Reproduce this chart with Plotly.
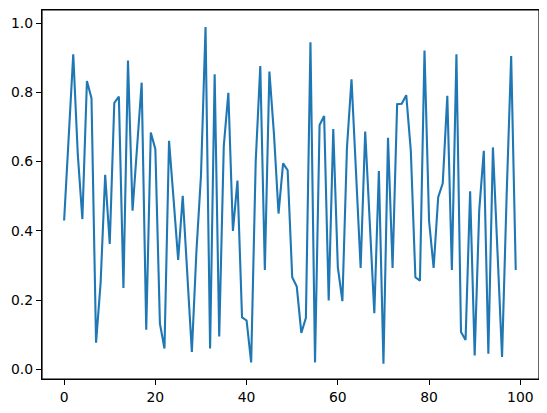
import plotly.graph_objects as go

x_values = list(range(100))
y_values = [
    0.43, 0.67, 0.91, 0.62, 0.434, 0.833, 0.783, 0.077, 0.25, 0.562,
    0.362, 0.77, 0.788, 0.235, 0.892, 0.458, 0.64, 0.828, 0.114, 0.684,
    0.636, 0.132, 0.06, 0.66, 0.49, 0.316, 0.501, 0.28, 0.05, 0.34,
    0.56, 0.989, 0.06, 0.852, 0.095, 0.645, 0.799, 0.40, 0.545, 0.15,
    0.141, 0.02, 0.602, 0.876, 0.287, 0.86, 0.68, 0.45, 0.595, 0.575,
    0.266, 0.239, 0.105, 0.149, 0.945, 0.02, 0.706, 0.732, 0.199, 0.694,
    0.295, 0.197, 0.64, 0.838, 0.57, 0.293, 0.687, 0.42, 0.162, 0.573,
    0.016, 0.669, 0.293, 0.766, 0.767, 0.792, 0.631, 0.266, 0.256, 0.921,
    0.429, 0.293, 0.497, 0.537, 0.79, 0.287, 0.91, 0.108, 0.085, 0.514,
    0.04, 0.46, 0.631, 0.045, 0.641, 0.34, 0.036, 0.5, 0.905, 0.287,
]
x_ticks = [0, 20, 40, 60, 80, 100]
y_ticks = [0.0, 0.2, 0.4, 0.6, 0.8, 1.0]

fig = go.Figure(go.Scatter(
    x=x_values, y=y_values, mode="lines",
    line=dict(color="#1f77b4", width=2.1),
    showlegend=False,
))

axis_common = dict(
    showline=True, mirror=True, linecolor="black", linewidth=1.2,
    ticks="outside", ticklen=5, tickwidth=1.1, tickcolor="black",
    showgrid=False, zeroline=False, automargin=False,
    tickfont=dict(family="DejaVu Sans", size=13.9, color="black"),
)

# The page body has an 8px default margin, so the figure is sized and
# margined to put the axes box where the reference has it in the window.
fig.update_layout(
    width=539, height=405,
    margin=dict(l=34, r=8, t=2, b=34, autoexpand=False),
    paper_bgcolor="white", plot_bgcolor="white",
    xaxis=dict(range=[-4.85, 104.1], tickvals=x_ticks,
               ticktext=[str(t) for t in x_ticks], **axis_common),
    yaxis=dict(range=[-0.028, 1.038], tickvals=y_ticks,
               ticktext=[f"{t:.1f}" for t in y_ticks], **axis_common),
    shapes=[dict(type="rect", xref="paper", yref="paper", x0=0, x1=1,
                 y0=0, y1=1, line=dict(color="black", width=1.2),
                 layer="above")],
)

fig.write_html("out.html")
